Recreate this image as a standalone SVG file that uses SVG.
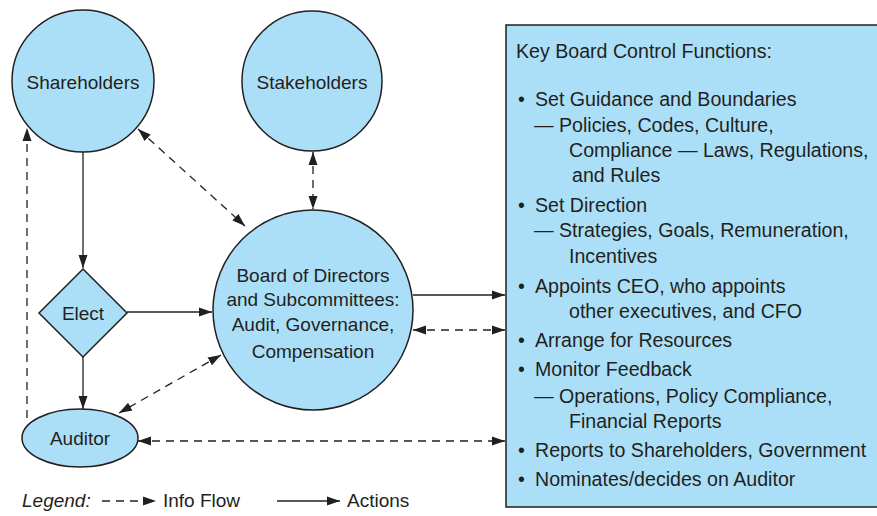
<svg xmlns="http://www.w3.org/2000/svg" width="877" height="516" viewBox="0 0 877 516">
<defs>
<style>
.n{fill:#abdff8;stroke:#231f20;stroke-width:1.5}
.t{font-family:"Liberation Sans",Arial,sans-serif;font-size:19px;fill:#231f20}
.b{font-size:19.6px}
.c{text-anchor:middle}
.s{fill:none;stroke:#231f20;stroke-width:1.3}
.d{fill:none;stroke:#231f20;stroke-width:1.3;stroke-dasharray:8 6}
</style>
<marker id="a" markerUnits="userSpaceOnUse" markerWidth="14" markerHeight="10" refX="13" refY="5" orient="auto-start-reverse"><path d="M0,0.5 L13,5 L0,9.5 Z" fill="#231f20"/></marker>
</defs>
<rect x="0" y="0" width="877" height="516" fill="#fff"/>
<g id="connectors">
<line class="s" x1="83" y1="152" x2="83" y2="268" marker-end="url(#a)"/>
<line class="s" x1="83" y1="357" x2="83" y2="409" marker-end="url(#a)"/>
<line class="s" x1="127" y1="312" x2="212" y2="312" marker-end="url(#a)"/>
<line class="d" x1="27" y1="418" x2="27" y2="128" marker-end="url(#a)"/>
<line class="d" x1="138" y1="129" x2="245" y2="226" marker-start="url(#a)" marker-end="url(#a)"/>
<line class="d" x1="313" y1="152" x2="313" y2="209" marker-start="url(#a)" marker-end="url(#a)"/>
<line class="d" x1="221" y1="355" x2="119" y2="413" marker-start="url(#a)" marker-end="url(#a)"/>
<line class="s" x1="413" y1="295" x2="505" y2="295" marker-end="url(#a)"/>
<line class="d" x1="413" y1="330" x2="505" y2="330" marker-start="url(#a)" marker-end="url(#a)"/>
<line class="d" x1="138" y1="441" x2="505" y2="441" marker-start="url(#a)" marker-end="url(#a)"/>
</g>
<g id="shareholders"><circle class="n" cx="83" cy="81" r="71"/><text class="t c" x="83" y="89">Shareholders</text></g>
<g id="stakeholders"><circle class="n" cx="312" cy="81" r="70"/><text class="t c" x="312" y="89">Stakeholders</text></g>
<g id="board"><circle class="n" cx="313" cy="310" r="100"/>
<text class="t c" x="313" y="282">Board of Directors</text>
<text class="t c" x="313" y="306">and Subcommittees:</text>
<text class="t c" x="313" y="331">Audit, Governance,</text>
<text class="t c" x="313" y="358">Compensation</text></g>
<g id="elect"><polygon class="n" points="83,269 127,313 83,357 39,313"/><text class="t c" x="83" y="320">Elect</text></g>
<g id="auditor"><ellipse class="n" cx="80" cy="438" rx="58" ry="29"/><text class="t c" x="80" y="445">Auditor</text></g>
<g id="functions"><rect class="n" x="506" y="25" width="380" height="482"/>
<text class="t b" x="516" y="58">Key Board Control Functions:</text>
<g class="t b">
<text x="518" y="106">•</text><text x="535" y="106">Set Guidance and Boundaries</text>
<text x="534" y="132">— Policies, Codes, Culture,</text>
<text x="569" y="157">Compliance — Laws, Regulations,</text>
<text x="572" y="182">and Rules</text>
<text x="518" y="212">•</text><text x="535" y="212">Set Direction</text>
<text x="534" y="237">— Strategies, Goals, Remuneration,</text>
<text x="569" y="263">Incentives</text>
<text x="518" y="293">•</text><text x="535" y="293">Appoints CEO, who appoints</text>
<text x="569" y="318">other executives, and CFO</text>
<text x="518" y="347">•</text><text x="535" y="347">Arrange for Resources</text>
<text x="518" y="376">•</text><text x="535" y="376">Monitor Feedback</text>
<text x="534" y="403">— Operations, Policy Compliance,</text>
<text x="569" y="428">Financial Reports</text>
<text x="518" y="457">•</text><text x="535" y="457">Reports to Shareholders, Government</text>
<text x="518" y="486">•</text><text x="535" y="486">Nominates/decides on Auditor</text>
</g>
</g>
<g id="legend">
<text class="t" x="22" y="507" font-style="italic">Legend:</text>
<line class="d" x1="102" y1="501" x2="156" y2="501" marker-end="url(#a)"/>
<text class="t" x="163" y="507">Info Flow</text>
<line class="s" x1="277" y1="501" x2="340" y2="501" marker-end="url(#a)"/>
<text class="t" x="347" y="507">Actions</text>
</g>
</svg>
